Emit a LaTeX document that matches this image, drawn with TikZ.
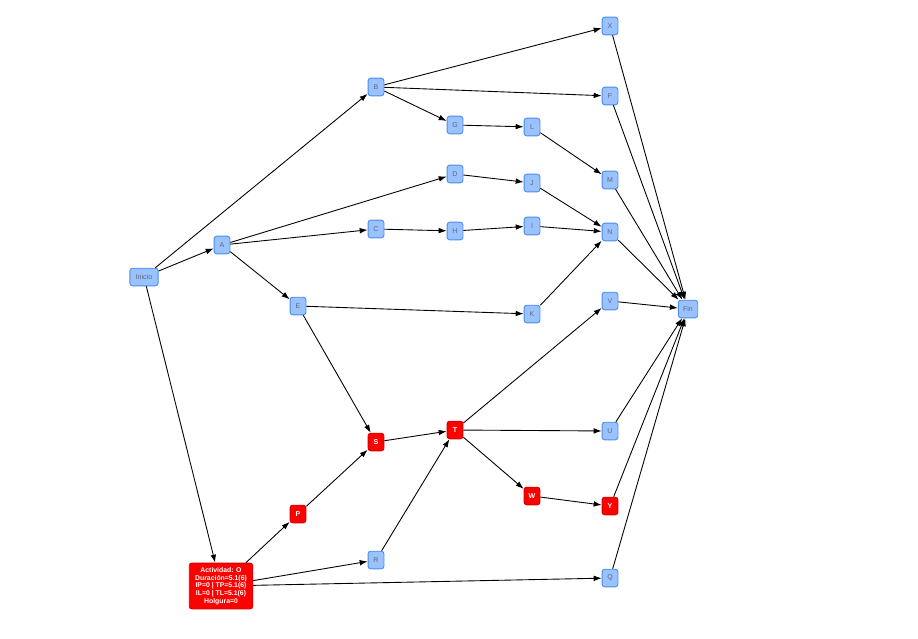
\documentclass[tikz,border=0pt]{standalone}
\usepackage{fontspec}
\setmainfont{Liberation Sans}
\usetikzlibrary{arrows.meta}
\definecolor{ActBlue}{HTML}{99C2FF}
\definecolor{ActLine}{HTML}{4A8CF0}
\definecolor{ActText}{HTML}{5A6A80}
\definecolor{CritRed}{HTML}{FF0000}
\definecolor{CritLine}{HTML}{D40000}

\tikzset{
    act/.style={draw=ActLine, fill=ActBlue, rounded corners=1.5pt, line width=0.5pt,
        minimum width=9pt, minimum height=10pt, inner sep=1pt,
        font=\fontsize{4}{5}\selectfont, text=ActText},
    crit/.style={act, draw=CritLine, fill=CritRed, text=white, font=\fontsize{4}{5}\selectfont\bfseries},
    link/.style={-{Latex[length=4.5pt,width=3.2pt]}, line width=0.5pt, black}
}

\begin{document}
\begin{tikzpicture}[x=0.5669pt, y=-0.5669pt]

            \useasboundingbox (0,0) rectangle (918,638);

            \node[act, minimum width=16pt] (inicio) at (144,277){Inicio};
            \node[act] (a) at (222,245){A};
            \node[act] (b) at (376,87){B};
            \node[act] (x) at (610,26){X};
            \node[act] (f) at (610,96){F};
            \node[act] (g) at (455,125){G};
            \node[act] (l) at (532,127){L};
            \node[act] (m) at (610,180){M};
            \node[act] (d) at (455,174){D};
            \node[act] (j) at (532,183){J};
            \node[act] (c) at (376,229){C};
            \node[act] (h) at (455,231){H};
            \node[act] (i) at (532,226){I};
            \node[act] (n) at (610,232){N};
            \node[act] (e) at (298,306){E};
            \node[act] (k) at (532,314){K};
            \node[act] (v) at (610,301){V};
            \node[act, minimum width=11pt] (fin) at (688,309){Fin};
            \node[act] (u) at (610,431){U};
            \node[act] (r) at (376,560){R};
            \node[act] (q) at (610,578){Q};

            \node[crit] (s) at (376,442){S};
            \node[crit] (t) at (455,430){T};
            \node[crit] (w) at (532,496){W};
            \node[crit] (y) at (610,506){Y};
            \node[crit] (p) at (298,514){P};
            \node[crit, minimum width=36pt, minimum height=26pt, align=center,
                font=\fontsize{3.9}{4.4}\selectfont\bfseries] (o) at (221,586)
                {Actividad: O\\ Duración=5.1(6)\\ IP=0 | TP=5.1(6)\\ IL=0 | TL=5.1(6)\\ Holgura=0};

            \draw[link] (inicio) -- (a);
            \draw[link] (inicio) -- (b);
            \draw[link] (inicio) -- (o);
            \draw[link] (a) -- (c);
            \draw[link] (a) -- (d);
            \draw[link] (a) -- (e);
            \draw[link] (b) -- (x);
            \draw[link] (b) -- (f);
            \draw[link] (b) -- (g);
            \draw[link] (g) -- (l);
            \draw[link] (l) -- (m);
            \draw[link] (d) -- (j);
            \draw[link] (j) -- (n);
            \draw[link] (c) -- (h);
            \draw[link] (h) -- (i);
            \draw[link] (i) -- (n);
            \draw[link] (e) -- (k);
            \draw[link] (e) -- (s);
            \draw[link] (k) -- (n);
            \draw[link] (o) -- (p);
            \draw[link] (o) -- (r);
            \draw[link] (o) -- (q);
            \draw[link] (p) -- (s);
            \draw[link] (s) -- (t);
            \draw[link] (r) -- (t);
            \draw[link] (t) -- (v);
            \draw[link] (t) -- (u);
            \draw[link] (t) -- (w);
            \draw[link] (w) -- (y);
            \draw[link] (x) -- (fin);
            \draw[link] (f) -- (fin);
            \draw[link] (m) -- (fin);
            \draw[link] (n) -- (fin);
            \draw[link] (v) -- (fin);
            \draw[link] (u) -- (fin);
            \draw[link] (y) -- (fin);
            \draw[link] (q) -- (fin);
            \end{tikzpicture}
\end{document}
